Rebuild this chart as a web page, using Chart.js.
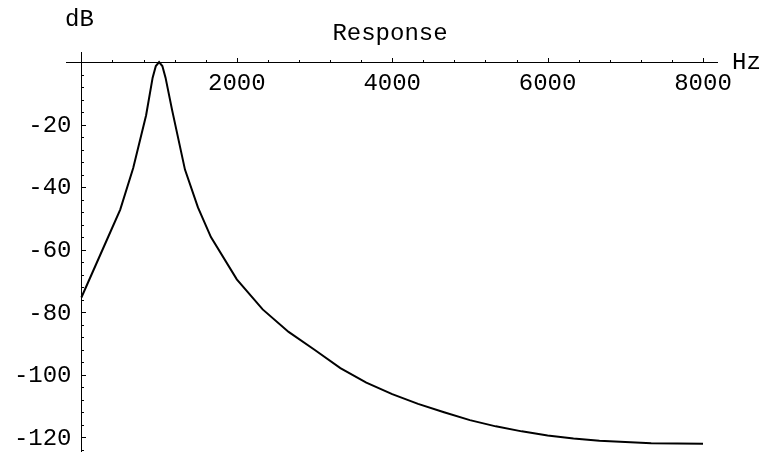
<!DOCTYPE html>
<html>
<head>
<meta charset="utf-8">
<title>Response</title>
<script src="https://cdn.jsdelivr.net/npm/chart.js@4.4.1/dist/chart.umd.min.js"></script>
<style>
  html, body { margin: 0; padding: 0; background: #fff; }
  #wrap { width: 766px; height: 452px; }
</style>
</head>
<body>
<div id="wrap"><canvas id="chart" width="766" height="452"></canvas></div>
<script>
// frequency (Hz) and level (dB)
const freqs = [0, 333, 500, 667, 833, 917, 958, 1000, 1042, 1083, 1167, 1333, 1500, 1667, 2000, 2333, 2667, 3000,
    3333, 3667, 4000, 4333, 4667, 5000, 5333, 5667, 6000, 6333, 6667, 7000, 7333, 7667, 8000];
const levels = [-75.3, -56.6, -47.2, -33.9, -17.0, -5.0, -1.3, 0, -1.3, -5.0, -15.3, -34.4, -46.5, -56.0, -69.5, -79.1, -86.3, -92.0,
    -97.9, -102.5, -106.2, -109.3, -112.0, -114.5, -116.5, -118.1, -119.4, -120.4, -121.1, -121.5, -121.9, -122.0, -122.1];

const xTicks = [2000, 4000, 6000, 8000];
const yTicks = [-20, -40, -60, -80, -100, -120];
const xMinorStep = 400;
const yMinorStep = 4;

const titleText = 'Response';
const xUnit = 'Hz';
const yUnit = 'dB';

const FONT = "'Liberation Mono', 'DejaVu Sans Mono', monospace";

// small tick marks, y labels + axis captions, Mathematica style (ticks point inward)
const axisDecor = {
    id: 'axisDecor',
    afterDraw(chart) {
        const ctx = chart.ctx;
        const xs = chart.scales.x;
        const ys = chart.scales.y;
        const x0 = Math.round(xs.getPixelForValue(0)) + 0.5;
        const y0 = Math.round(ys.getPixelForValue(0)) + 0.5;
        ctx.save();
        ctx.strokeStyle = '#000';
        ctx.lineWidth = 1;
        ctx.beginPath();
        for (let v = xMinorStep; v <= xs.max; v += xMinorStep) {
            const px = Math.round(xs.getPixelForValue(v)) + 0.5;
            const len = xTicks.includes(v) ? 4.5 : 2.5;
            ctx.moveTo(px, y0);
            ctx.lineTo(px, y0 - len);
        }
        for (let v = -yMinorStep; v >= ys.min; v -= yMinorStep) {
            const py = Math.round(ys.getPixelForValue(v)) + 0.5;
            const len = yTicks.includes(v) ? 4.5 : 2.5;
            ctx.moveTo(x0, py);
            ctx.lineTo(x0 + len, py);
        }
        ctx.stroke();

        ctx.fillStyle = '#000';
        ctx.font = '24px ' + FONT;

        // y tick labels: a value-positioned axis ignores ticks.padding, so place them here
        ctx.textAlign = 'right';
        ctx.textBaseline = 'middle';
        yTicks.forEach(v => {
            ctx.fillText(String(v), x0 - 10, ys.getPixelForValue(v) + 1);
        });

        ctx.textBaseline = 'alphabetic';
        ctx.textAlign = 'left';
        ctx.fillText(yUnit, 65, 26);
        ctx.fillText(xUnit, 732, 69);
        ctx.textAlign = 'center';
        ctx.fillText(titleText, 390, 40);
        ctx.restore();
    }
};

const ctx = document.getElementById('chart').getContext('2d');
new Chart(ctx, {
    type: 'line',
    data: {
        datasets: [{
            data: freqs.map((f, i) => ({ x: f, y: levels[i] })),
            borderColor: '#000',
            borderWidth: 2,
            pointRadius: 0,
            tension: 0,
            fill: false
        }]
    },
    options: {
        responsive: false,
        animation: false,
        layout: { padding: { left: 66, right: 49, top: 52, bottom: 0 } },
        plugins: { legend: { display: false }, tooltip: { enabled: false } },
        scales: {
            x: {
                type: 'linear',
                position: { y: 0 },
                min: -198,
                max: 8180,
                afterBuildTicks: (s) => { s.ticks = xTicks.map(v => ({ value: v })); },
                afterFit: (s) => { s.height = 0; s.paddingLeft = 0; s.paddingRight = 0; },
                grid: { display: false, drawTicks: false },
                border: { display: true, color: '#000', width: 1 },
                ticks: {
                    autoSkip: false,
                    maxRotation: 0,
                    padding: 7,
                    color: '#000',
                    font: { family: FONT, size: 24 },
                    callback: (v) => String(v)
                }
            },
            y: {
                type: 'linear',
                position: { x: 0 },
                min: -124.7,
                max: 3.2,
                afterBuildTicks: (s) => { s.ticks = yTicks.map(v => ({ value: v })); },
                afterFit: (s) => { s.width = 0; s.paddingTop = 0; s.paddingBottom = 0; },
                grid: { display: false, drawTicks: false },
                border: { display: true, color: '#000', width: 1 },
                ticks: { display: false }
            }
        }
    },
    plugins: [axisDecor]
});
</script>
</body>
</html>
